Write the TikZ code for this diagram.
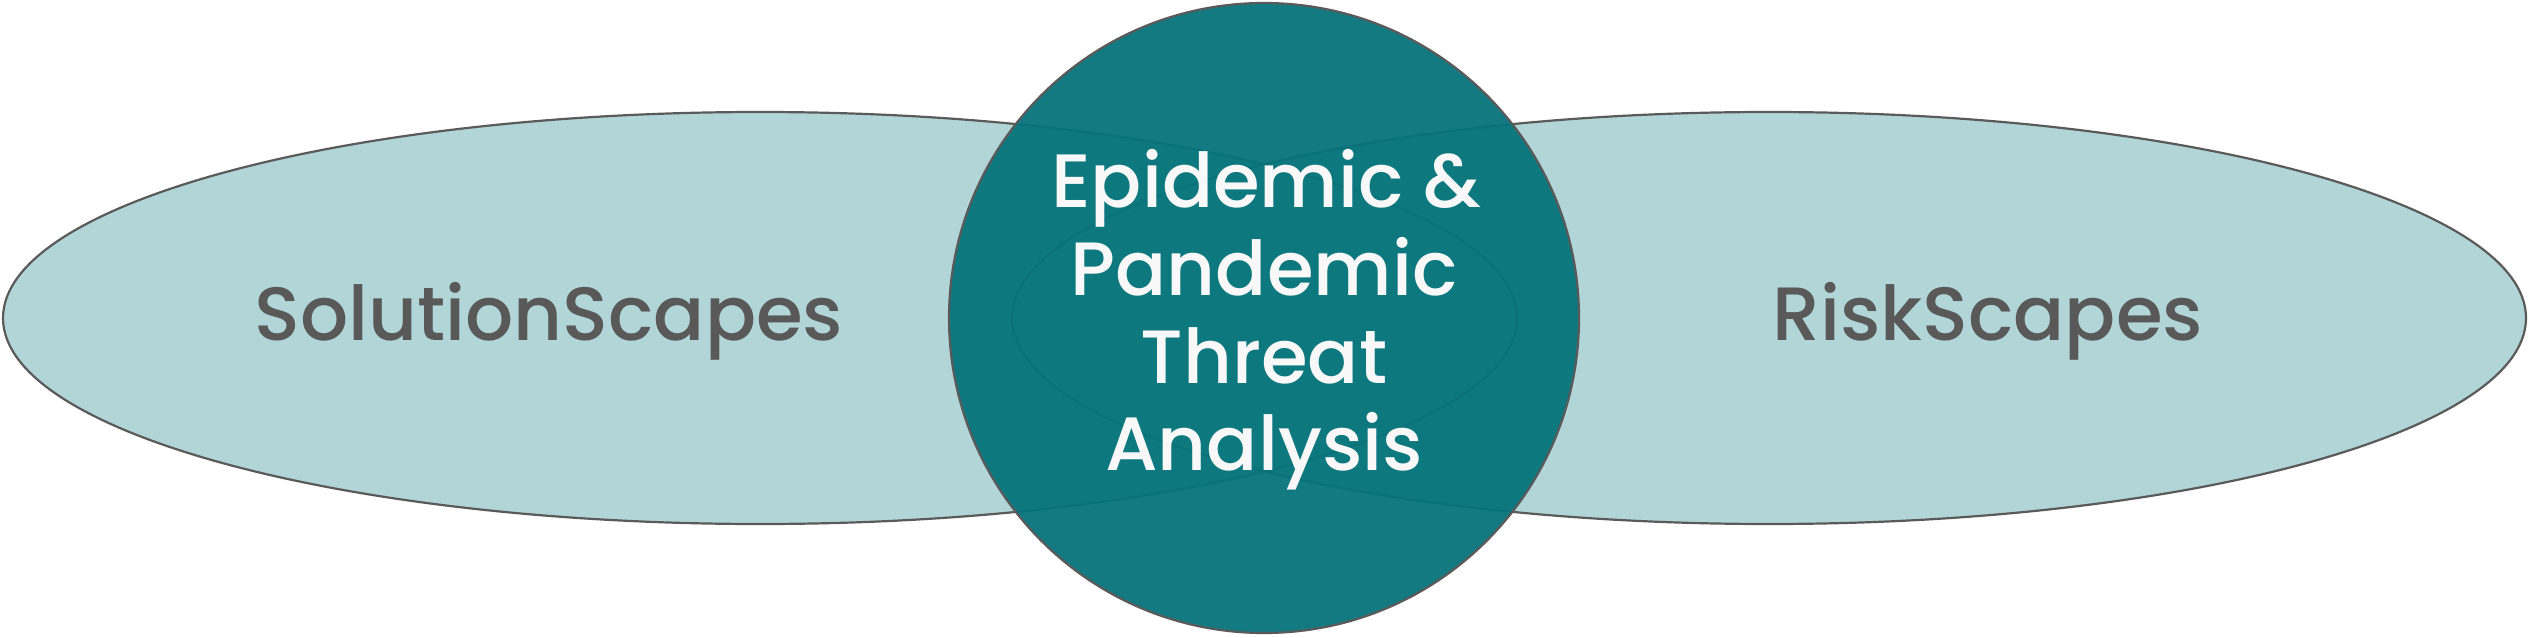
\documentclass[tikz,border=0pt]{standalone}
\usepackage{fontspec}
\setmainfont{Poppins}[UprightFont={Poppins Medium}]
\usetikzlibrary{shapes.geometric}
\definecolor{ellfill}{HTML}{B2D6D8}
\definecolor{edgegray}{HTML}{5A5A5A}
\definecolor{core}{HTML}{06737B}
\definecolor{lblgray}{HTML}{595959}
\definecolor{corelbl}{HTML}{F8F8F8}
\begin{document}
\begin{tikzpicture}[x=0.1mm,y=0.1mm,
  scape/.style={ellipse, fill=ellfill, draw=none, minimum width=151.4mm, minimum height=41.2mm, inner sep=0pt},
  outline/.style={draw=edgegray, line width=0.22mm},
  corecircle/.style={circle, fill=core, fill opacity=0.95, draw=edgegray, draw opacity=1, line width=0.22mm, minimum size=63mm, inner sep=0pt},
  lbl/.style={font=\fontsize{21.5}{26}\selectfont, text=lblgray, inner sep=0pt, anchor=base},
  corelblstyle/.style={font=\fontsize{21.5}{26}\selectfont, text=corelbl, inner sep=0pt, anchor=base}]
\useasboundingbox (0,0) rectangle (2530,637);
\node[scape] (L) at (760,319) {};
\node[scape] (R) at (1769,319) {};
\draw[outline] (L.center) ellipse [x radius=75.7mm, y radius=20.6mm];
\draw[outline] (R.center) ellipse [x radius=75.7mm, y radius=20.6mm];
\node[corecircle] (C) at (1264,319) {};
\node[lbl] (ls) at (549,297) {SolutionScapes};
\node[lbl] (rs) at (1988,297) {RiskScapes};
\node[corelblstyle] (t1) at (1266,429) {Epidemic \&};
\node[corelblstyle] (t2) at (1264,341) {Pandemic};
\node[corelblstyle] (t3) at (1264,254) {Threat};
\node[corelblstyle] (t4) at (1264,167) {Analysis};
\end{tikzpicture}
\end{document}
